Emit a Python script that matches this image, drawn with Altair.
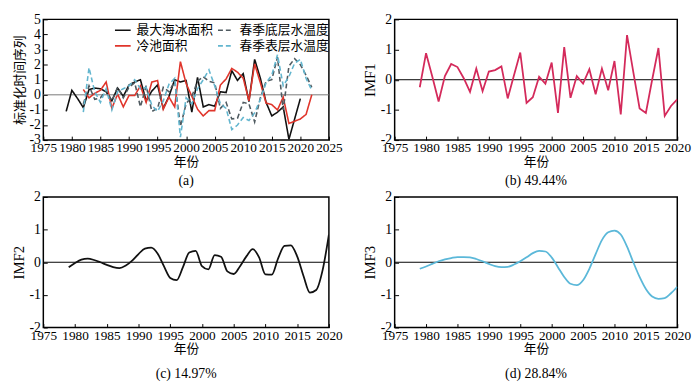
import altair as alt
import pandas as pd

# ---------------- data ----------------
series_names = ["最大海冰面积", "冷池面积", "春季底层水温度", "春季表层水温度"]

ice_years = list(range(1979, 2021))
ice_area = [-1.1, 0.3, -0.25, -0.85, 0.35, 0.45, 0.4, 0.2, -0.4, 0.45,
            -0.1, 0.65, 0.85, 1.0, -0.4, 0.25, 0.65, -0.9, -0.1, 1.0,
            0.85, 0.95, -1.15, 1.15, -0.8, -0.65, -0.75, 0.2, 0.15, 1.6,
            0.95, 1.4, -0.45, 2.35, 1.1, -0.5, -1.4, -1.15, -0.8, -2.95,
            -1.6, -0.25]

pool_years = list(range(1982, 2023))
cold_pool = [0.35, -0.2, 0.1, 0.3, 0.85, -0.9, 0.05, -0.8, -0.05, -0.05,
             0.6, -0.5, 0.85, 0.95, -0.95, -0.15, -0.8, 2.2, 0.75, -0.1,
             -0.95, -1.4, -1.05, -1.05, 0.65, 1.05, 1.75, 1.5, 1.1, -0.4,
             2.05, 0.8, -0.55, -0.65, -1.0, -0.15, -1.9, -1.75, -1.6, -1.3,
             0.0]
bottom_temp = [-0.6, 0.6, -0.3, -0.2, 0.3, -0.4, 0.5, -0.2, 0.5, 0.8,
               -0.8, 0.6, -1.1, -0.9, 0.5, 0.2, 0.9, -2.1, -0.6, -0.1,
               0.9, 1.2, 0.9, 0.8, -0.9, -0.5, -1.6, -1.55, -0.5, -0.6,
               -1.8, -0.2, 0.9, 1.0, 2.5, -1.0, 1.9, 2.4, 2.0, 1.3,
               0.5]
surface_temp = [-1.15, 1.8, 0.2, -0.5, 0.4, -1.0, 0.2, 0.4, 0.6, 1.0,
                0.4, 0.5, -0.7, -1.1, -0.4, 0.7, 1.1, -2.8, -0.2, -0.6,
                0.4, 1.0, 1.65, 0.6, -0.6, -0.9, -2.3, -2.0, -1.5, -1.7,
                -1.2, -0.3, 0.8, 1.3, 2.65, 0.6, 1.2, 2.1, 2.35, 1.1,
                0.3]

imf_years = list(range(1979, 2021))
imf1 = [-0.25, 0.88, 0.1, -0.72, 0.12, 0.52, 0.42, 0.05, -0.4, 0.37,
        -0.38, 0.27, 0.32, 0.44, -0.62, 0.15, 0.9, -0.77, -0.58, 0.1,
        -0.13, 0.57, -1.1, 1.08, -0.6, 0.12, -0.13, 0.35, -0.48, 0.37,
        -0.35, 0.62, -1.15, 1.48, 0.25, -0.95, -1.1, 0.0, 1.05, -1.2,
        -0.87, -0.65]
imf2 = [-0.15, -0.02, 0.08, 0.11, 0.07, 0.0, -0.08, -0.15, -0.18, -0.1,
        0.05, 0.25, 0.42, 0.45, 0.27, -0.12, -0.48, -0.55, -0.15, 0.3,
        0.35, -0.12, -0.22, 0.22, 0.17, -0.28, -0.36, -0.12, 0.18, 0.4,
        0.15, -0.37, -0.38, 0.12, 0.5, 0.52, 0.18, -0.42, -0.93, -0.85,
        -0.25, 0.85]
imf3 = [-0.2, -0.13, -0.05, 0.03, 0.09, 0.13, 0.16, 0.16, 0.15, 0.1,
        0.03, -0.05, -0.12, -0.15, -0.14, -0.07, 0.03, 0.15, 0.28, 0.35,
        0.33, 0.15, -0.15, -0.45, -0.66, -0.7, -0.55, -0.2, 0.25, 0.68,
        0.92, 0.97, 0.85, 0.48, 0.0, -0.45, -0.82, -1.05, -1.12, -1.1,
        -0.95, -0.75]

captions = ["(a)", "(b) 49.44%", "(c) 14.97%", "(d) 28.84%"]
imf_titles = ["IMF1", "IMF2", "IMF3"]
zero_line = [0]

# ---------------- style ----------------
SERIF = "Liberation Serif"
CJK = "Noto Sans CJK SC"
series_colors = ["#111111", "#e0352b", "#4f5a60", "#63b6cf"]
series_dash = [[1, 0], [1, 0], [5, 3], [5, 3]]


def x_axis(last):
    return alt.Axis(title="年份", titleFont=CJK, titleFontSize=13,
                    titleFontWeight="normal", titlePadding=1,
                    values=list(range(1975, last + 1, 5)),
                    labelExpr="'' + datum.value", labelOverlap=False,
                    labelFlush=False, labelBound=False,
                    labelFont=SERIF, labelFontSize=13.5, labelPadding=1,
                    labelColor="black", titleColor="black",
                    domain=False, ticks=True, tickSize=4, offset=-4,
                    tickColor="black", tickWidth=1, grid=False)


def y_axis(title, lo, hi, font, size):
    return alt.Axis(title=title, titleFont=font, titleFontSize=size,
                    titleFontWeight="normal", titlePadding=3,
                    values=list(range(lo, hi + 1)),
                    labelExpr="'' + datum.value", labelOverlap=False,
                    labelFlush=False, labelBound=False,
                    labelFont=SERIF, labelFontSize=14, labelPadding=3,
                    labelColor="black", titleColor="black",
                    domain=False, ticks=True, tickSize=4, offset=-4,
                    tickColor="black", tickWidth=1, grid=False)


def caption(text, off):
    return alt.TitleParams(text=text, orient="bottom", anchor="middle",
                           font=SERIF, fontSize=14, fontWeight="normal",
                           color="black", offset=off)


W1, W2, H1, H2 = 291, 288, 123, 133

# ---------------- panel (a) ----------------
frames = []
for name, yrs, vals in [(series_names[0], ice_years, ice_area),
                        (series_names[1], pool_years, cold_pool),
                        (series_names[2], pool_years, bottom_temp),
                        (series_names[3], pool_years, surface_temp)]:
    frames.append(pd.DataFrame({"year": yrs, "value": vals, "series": name}))
df_a = pd.concat(frames, ignore_index=True)

yaxis_a = y_axis("标准化时间序列", -3, 5, CJK, 13)
yscale_a = alt.Scale(domain=[-3, 5], nice=False)
xa = alt.X("year:Q", scale=alt.Scale(domain=[1975, 2025], nice=False, zero=False),
           axis=x_axis(2025))
ya = alt.Y("value:Q", scale=yscale_a, axis=yaxis_a)

zero_a = alt.Chart(pd.DataFrame({"value": zero_line})).mark_rule(
    color="#777777", strokeWidth=1).encode(y=alt.Y("value:Q", scale=yscale_a, axis=yaxis_a))

legend_a = alt.Legend(title=None, orient="none", legendX=72, legendY=2,
                      columns=2, columnPadding=0, rowPadding=0,
                      symbolType="stroke", symbolSize=256,
                      symbolStrokeWidth=1.6, labelFont=CJK,
                      labelFontSize=13, labelColor="black",
                      labelOffset=5, padding=0)

lines_a = alt.Chart(df_a).mark_line(strokeWidth=1.6, clip=True).encode(
    x=xa, y=ya,
    color=alt.Color("series:N",
                    scale=alt.Scale(domain=series_names, range=series_colors),
                    legend=legend_a),
    strokeDash=alt.StrokeDash("series:N",
                              scale=alt.Scale(domain=series_names, range=series_dash),
                              legend=legend_a),
    detail="series:N",
)

panel_a = alt.layer(zero_a, lines_a).properties(width=W1, height=H1,
                                                title=caption(captions[0], 6))


# ---------------- IMF panels ----------------
def imf_panel(vals, title, color, interp, width, height, cap, off):
    df = pd.DataFrame({"year": imf_years, "value": vals})
    yaxis = y_axis(title, -2, 2, SERIF, 15)
    yscale = alt.Scale(domain=[-2, 2], nice=False)
    x = alt.X("year:Q", scale=alt.Scale(domain=[1975, 2020], nice=False, zero=False),
              axis=x_axis(2020))
    y = alt.Y("value:Q", scale=yscale, axis=yaxis)
    zero = alt.Chart(pd.DataFrame({"value": zero_line})).mark_rule(
        color="black", strokeWidth=1).encode(y=alt.Y("value:Q", scale=yscale, axis=yaxis))
    line = alt.Chart(df).mark_line(color=color, strokeWidth=1.8, interpolate=interp,
                                   clip=True).encode(x=x, y=y)
    return alt.layer(zero, line).properties(width=width, height=height,
                                            title=caption(cap, off))


panel_b = imf_panel(imf1, imf_titles[0], "#d42a5b", "linear", W2, H1, captions[1], 6)
panel_c = imf_panel(imf2, imf_titles[1], "#111111", "monotone", W1, H2, captions[2], 12)
panel_d = imf_panel(imf3, imf_titles[2], "#5bb8d9", "monotone", W2, H2, captions[3], 12)

row1 = alt.hconcat(panel_a, panel_b, spacing=18)
row2 = alt.hconcat(panel_c, panel_d, spacing=18)

chart = alt.vconcat(row1, row2, spacing=0).properties(
    padding={"left": 2, "top": 0, "right": 0, "bottom": 0}
).configure_view(stroke="black", strokeWidth=1.5).configure_concat(spacing=0)

chart.save("out.html", embed_options={"renderer": "svg", "actions": False})
